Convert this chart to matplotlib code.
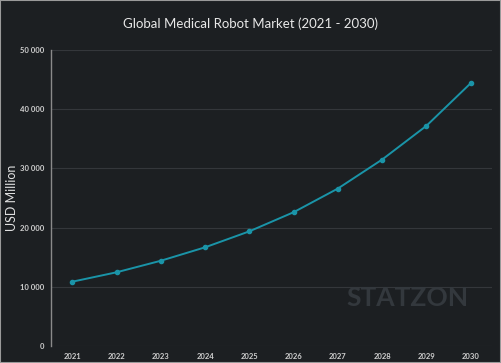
import matplotlib
matplotlib.use("Agg")
import matplotlib.pyplot as plt
from matplotlib.patches import Rectangle

years = [2021, 2022, 2023, 2024, 2025, 2026, 2027, 2028, 2029, 2030]
values = [10860, 12450, 14400, 16670, 19370, 22600, 26600, 31500, 37200, 44400]
yticks = [0, 10000, 20000, 30000, 40000, 50000]
ytick_labels = ["0", "10 000", "20 000", "30 000", "40 000", "50 000"]

bg = "#1c1f22"
plt.rcParams['font.family'] = ['Lato', 'DejaVu Sans']

fig = plt.figure(figsize=(5.01, 3.63), dpi=100, facecolor=bg)
ax = fig.add_axes([51/501, 17/363, 441/501, 296/363], facecolor=bg)

ax.plot(years, values, color="#1a94a8", lw=1.4, marker="o", ms=3, zorder=3)

ax.set_xlim(2020.52, 2030.48)
ax.set_ylim(0, 50000)
ax.set_xticks(years)
ax.set_xticklabels([str(y) for y in years])
ax.set_yticks(yticks)
ax.set_yticklabels(ytick_labels)
ax.tick_params(axis='both', length=0, labelsize=5.5, colors="#d0d0d0")
ax.tick_params(axis='x', pad=5)
ax.tick_params(axis='y', pad=4.5)
for lab in ax.get_xticklabels() + ax.get_yticklabels():
    lab.set_fontweight('bold')
ax.grid(axis='y', color="#34373b", lw=0.8)
ax.set_axisbelow(True)
for s in ['top', 'right', 'bottom']:
    ax.spines[s].set_visible(False)
ax.spines['left'].set_color("#8a8a8a")
ax.spines['left'].set_linewidth(1.0)

ax.set_ylabel("USD Million", color="#e0e0e0", fontsize=9)
ax.yaxis.set_label_coords((18 - 51) / 441, 0.5)

fig.text(0.5, 1 - 24/363, "Global Medical Robot Market (2021 - 2030)", ha='center', va='center',
         color="#e8e8e8", fontsize=9.5)

fig.text(407/501, 1 - 298/363, "STATZON", ha='center', va='center', color="#33383d",
         fontsize=19, fontweight='bold', zorder=1)

fig.patches.append(Rectangle((0, 0), 1, 1, transform=fig.transFigure, fill=False,
                             edgecolor="#9a9a9a", lw=1.5))

fig.savefig("out.png", dpi=100, facecolor=bg)
